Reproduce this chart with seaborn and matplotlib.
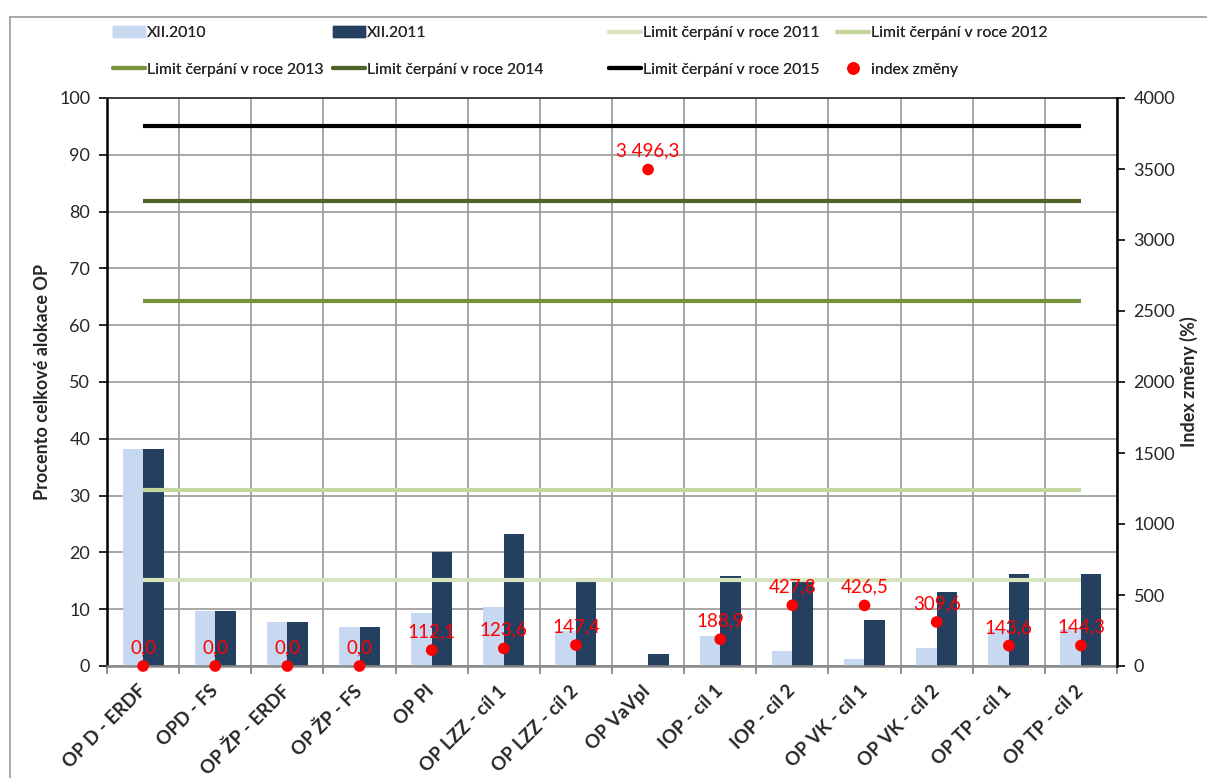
import numpy as np
import pandas as pd
import matplotlib
matplotlib.use("Agg")
import matplotlib.pyplot as plt
import matplotlib.patches as mpatches
from matplotlib.lines import Line2D
import seaborn as sns

# ---------------- data ----------------
programs = ["OP D - ERDF", "OPD - FS", "OP ŽP - ERDF", "OP ŽP - FS", "OP PI",
            "OP LZZ - cíl 1", "OP LZZ - cíl 2", "OP VaVpI", "IOP - cíl 1",
            "IOP - cíl 2", "OP VK - cíl 1", "OP VK - cíl 2", "OP TP - cíl 1",
            "OP TP - cíl 2"]
xii_2010 = [38.2, 9.6, 7.8, 6.8, 9.4, 10.3, 6.2, np.nan, 5.3, 2.6, 1.3, 3.1, 6.6, 6.6]
xii_2011 = [38.2, 9.6, 7.8, 6.8, 20.1, 23.2, 15.3, 2.2, 15.8, 14.8, 8.1, 13.1, 16.2, 16.2]
index_zmeny = [0.0, 0.0, 0.0, 0.0, 112.1, 123.6, 147.4, 3496.3, 188.9, 427.8,
               426.5, 309.6, 143.6, 144.3]
limit_labels = ["Limit čerpání v roce 2011", "Limit čerpání v roce 2012",
                "Limit čerpání v roce 2013", "Limit čerpání v roce 2014",
                "Limit čerpání v roce 2015"]
limit_values = [15.2, 30.9, 64.2, 81.8, 95.0]
series_labels = ["XII.2010", "XII.2011"]
index_label = "index změny"
left_ticks = list(range(0, 101, 10))
right_ticks = list(range(0, 4001, 500))

# ---------------- style ----------------
sns.set_theme(style="white")
plt.rcParams["font.family"] = ["Lato", "DejaVu Sans"]
plt.rcParams["font.size"] = 13

c_light = "#C6D9F1"
c_dark = "#243F60"
limit_colors = ["#D7E4BD", "#C3D69B", "#77933C", "#4F6228", "#000000"]
grid_c = "#A0A0A0"

fig = plt.figure(figsize=(12.07, 7.78), dpi=100)
ax = fig.add_axes([107 / 1207, 1 - 666 / 778, (1117 - 107) / 1207, (666 - 98) / 778])
ax2 = ax.twinx()

n = len(programs)
pos = np.arange(n)

df = pd.DataFrame({
    "program": programs * 2,
    "value": xii_2010 + xii_2011,
    "period": [series_labels[0]] * n + [series_labels[1]] * n,
})

sns.barplot(data=df, x="program", y="value", hue="period", order=programs,
            hue_order=series_labels, palette=[c_light, c_dark], saturation=1,
            width=0.57, gap=0, legend=False, ax=ax, zorder=2, linewidth=0)

for val, col in zip(limit_values, limit_colors):
    ax.hlines(val, pos[0], pos[-1], color=col, lw=3, zorder=3)

ax.set_xlim(-0.5, n - 0.5)
ax.set_ylim(0, 100)
ax.set_yticks(left_ticks)
ax.set_xticks(pos)
ax.set_xticklabels(programs, rotation=45, ha="right", va="center",
                   rotation_mode="anchor", fontweight="bold", fontsize=13.5)
ax.set_xticks(np.arange(-0.5, n, 1), minor=True)
ax.set_axisbelow(True)
ax.grid(False)
ax.grid(True, which="major", axis="y", color=grid_c, lw=1.3)
ax.grid(True, which="minor", axis="x", color=grid_c, lw=1.3)
ax.tick_params(axis="x", which="major", length=0, pad=16)
ax.tick_params(axis="x", which="minor", length=6, width=1.3, color="#888888",
               direction="out", bottom=True)
ax.tick_params(axis="y", which="major", length=6, width=1.2, color="black",
               direction="out", left=True, labelsize=13, pad=6)
ax.set_xlabel("")
ax.set_ylabel("Procento celkové alokace OP", fontweight="bold", fontsize=13, labelpad=6)

ax.spines["left"].set_color("black")
ax.spines["left"].set_linewidth(1.8)
ax.spines["bottom"].set_color("#888888")
ax.spines["bottom"].set_linewidth(1.8)
ax.spines["top"].set_color("#333333")
ax.spines["top"].set_linewidth(1.3)
ax.spines["right"].set_visible(False)

# right axis
sns.scatterplot(x=pos, y=index_zmeny, color="#FF0000", s=70, edgecolor="none",
                ax=ax2, zorder=5, clip_on=False, legend=False)
ax2.set_ylim(0, 4000)
ax2.set_yticks(right_ticks)
ax2.grid(False)
ax2.tick_params(axis="y", length=6, width=1.2, color="black", direction="out",
                right=True, labelsize=13, pad=6)
ax2.set_ylabel("Index změny (%)", fontweight="bold", fontsize=13, labelpad=3)
for s in ["left", "top", "bottom"]:
    ax2.spines[s].set_visible(False)
ax2.spines["right"].set_color("black")
ax2.spines["right"].set_linewidth(1.8)


def fmt(v):
    return f"{v:,.1f}".replace(",", " ").replace(".", ",")


for x, v in zip(pos, index_zmeny):
    ax2.annotate(fmt(v), (x, v), xytext=(0, 7), textcoords="offset points",
                 ha="center", va="bottom", color="#FF0000", fontsize=13.5,
                 zorder=6, annotation_clip=False)

# legend (4 columns, two rows, placed as in reference)
bar_h = [mpatches.Patch(color=c_light, label=series_labels[0]),
         mpatches.Patch(color=c_dark, label=series_labels[1])]
line_h = [Line2D([], [], color=c, lw=3, label=l) for c, l in zip(limit_colors, limit_labels)]
dot_h = Line2D([], [], color="#FF0000", marker="o", ls="none", markersize=8, label=index_label)
columns = [(110, [bar_h[0], line_h[2]]), (330, [bar_h[1], line_h[3]]),
           (606, [line_h[0], line_h[4]]), (834, [line_h[1], dot_h])]
for xpx, hs in columns:
    lg = fig.legend(handles=hs, loc="upper left", bbox_to_anchor=(xpx / 1207, 1 - 23 / 778),
                    frameon=False, fontsize=11.3, handlelength=2.0, handletextpad=0.15,
                    labelspacing=1.45, borderaxespad=0, borderpad=0.2)
    fig.add_artist(lg)

# outer frame
fig.add_artist(Line2D([10 / 1207, 10 / 1207], [0, 1 - 17 / 778], transform=fig.transFigure,
                      color="#999999", lw=1.2))
fig.add_artist(Line2D([10 / 1207, 1], [1 - 17 / 778, 1 - 17 / 778], transform=fig.transFigure,
                      color="#999999", lw=1.2))

fig.savefig("out.png", dpi=100)
